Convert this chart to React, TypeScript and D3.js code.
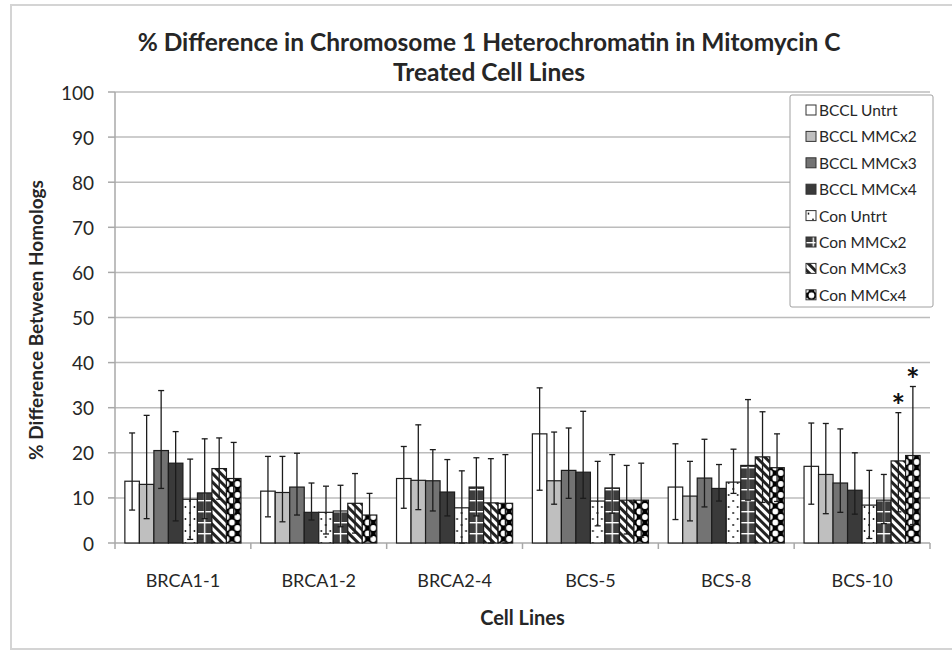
import React, { useEffect, useRef } from "react";
import * as d3 from "d3";

// Data
const categories = ["BRCA1-1", "BRCA1-2", "BRCA2-4", "BCS-5", "BCS-8", "BCS-10"];
const seriesNames = [
  "BCCL Untrt", "BCCL MMCx2", "BCCL MMCx3", "BCCL MMCx4",
  "Con Untrt", "Con MMCx2", "Con MMCx3", "Con MMCx4",
];

// mean % difference per cell line
const bcclUntrt = [13.7, 11.5, 14.3, 24.2, 12.4, 17.0];
const bcclMmc2 = [13.0, 11.2, 13.9, 13.8, 10.4, 15.2];
const bcclMmc3 = [20.5, 12.4, 13.8, 16.1, 14.4, 13.3];
const bcclMmc4 = [17.7, 6.8, 11.3, 15.7, 12.1, 11.7];
const conUntrt = [9.7, 6.8, 7.8, 9.3, 13.5, 8.4];
const conMmc2 = [11.1, 7.1, 12.4, 12.2, 17.2, 9.5];
const conMmc3 = [16.5, 8.8, 8.9, 9.5, 19.1, 18.2];
const conMmc4 = [14.3, 6.2, 8.8, 9.5, 16.7, 19.4];

// error bar ends (top / bottom)
const bcclUntrtHi = [24.4, 19.2, 21.4, 34.4, 22.0, 26.6];
const bcclMmc2Hi = [28.3, 19.2, 26.2, 24.6, 18.1, 26.5];
const bcclMmc3Hi = [33.8, 19.9, 20.7, 25.5, 23.0, 25.3];
const bcclMmc4Hi = [24.7, 13.3, 18.5, 29.2, 17.4, 20.0];
const conUntrtHi = [18.6, 12.6, 16.0, 18.1, 20.8, 16.1];
const conMmc2Hi = [23.1, 12.8, 18.9, 19.6, 31.8, 15.2];
const conMmc3Hi = [23.3, 15.4, 18.7, 17.2, 29.1, 28.9];
const conMmc4Hi = [22.3, 11.0, 19.6, 17.7, 24.2, 34.7];

const bcclUntrtLo = [7.3, 5.8, 7.7, 11.7, 5.2, 8.6];
const bcclMmc2Lo = [5.4, 4.7, 7.4, 8.6, 4.9, 6.5];
const bcclMmc3Lo = [12.1, 6.2, 7.1, 9.9, 8.0, 6.8];
const bcclMmc4Lo = [4.9, 5.1, 6.0, 9.9, 9.3, 6.4];
const conUntrtLo = [0.8, 2.0, 0.0, 3.8, 11.0, 1.0];
const conMmc2Lo = [5.4, 3.6, 6.0, 6.6, 9.5, 4.3];
const conMmc3Lo = [9.7, 2.2, 0.0, 2.0, 9.0, 6.9];
const conMmc4Lo = [6.3, 1.4, 0.0, 1.3, 9.2, 4.1];

const means = [bcclUntrt, bcclMmc2, bcclMmc3, bcclMmc4, conUntrt, conMmc2, conMmc3, conMmc4];
const highs = [bcclUntrtHi, bcclMmc2Hi, bcclMmc3Hi, bcclMmc4Hi, conUntrtHi, conMmc2Hi, conMmc3Hi, conMmc4Hi];
const lows = [bcclUntrtLo, bcclMmc2Lo, bcclMmc3Lo, bcclMmc4Lo, conUntrtLo, conMmc2Lo, conMmc3Lo, conMmc4Lo];

const yTicks = [0, 10, 20, 30, 40, 50, 60, 70, 80, 90, 100];
const starred = [
  { category: "BCS-10", series: "Con MMCx3" },
  { category: "BCS-10", series: "Con MMCx4" },
];

// Layout and styles
const width = 952;
const height = 651;
const plot = { left: 115, right: 930, top: 92, bottom: 543 };
const font = "Lato, 'Open Sans', sans-serif";
const textColor = "#262626";
const fills = ["#ffffff", "#bfbfbf", "#737373", "#3a3a3a", "url(#dots)", "url(#grid)", "url(#stripes)", "url(#diamonds)"];

function App() {
  const chartElement = useRef<SVGSVGElement | null>(null);

  useEffect(() => {
    const svg = d3.select(chartElement.current).html("");

    // Patterns for the hatched series
    const defs = svg.append("defs");
    const dots = defs.append("pattern").attr("id", "dots")
      .attr("patternUnits", "userSpaceOnUse").attr("width", 9).attr("height", 12);
    dots.append("rect").attr("width", 9).attr("height", 12).attr("fill", "#fff");
    dots.append("circle").attr("cx", 2.5).attr("cy", 3).attr("r", 0.9).attr("fill", "#000");
    dots.append("circle").attr("cx", 7).attr("cy", 9).attr("r", 0.9).attr("fill", "#000");

    const grid = defs.append("pattern").attr("id", "grid")
      .attr("patternUnits", "userSpaceOnUse").attr("width", 14.5).attr("height", 11);
    grid.append("rect").attr("width", 14.5).attr("height", 11).attr("fill", "#3d3d3d");
    grid.append("rect").attr("x", 6.6).attr("width", 1.4).attr("height", 11).attr("fill", "#fff");
    grid.append("rect").attr("y", 5).attr("width", 14.5).attr("height", 1.4).attr("fill", "#fff");

    const stripes = defs.append("pattern").attr("id", "stripes")
      .attr("patternUnits", "userSpaceOnUse").attr("width", 6).attr("height", 6)
      .attr("patternTransform", "rotate(-45)");
    stripes.append("rect").attr("width", 6).attr("height", 6).attr("fill", "#fff");
    stripes.append("rect").attr("width", 3).attr("height", 6).attr("fill", "#222");

    const diamonds = defs.append("pattern").attr("id", "diamonds")
      .attr("patternUnits", "userSpaceOnUse").attr("width", 11).attr("height", 11);
    diamonds.append("rect").attr("width", 11).attr("height", 11).attr("fill", "#000");
    [[0, 0], [11, 0], [0, 11], [11, 11], [5.5, 5.5]].forEach(([cx, cy]) => {
      diamonds.append("circle").attr("cx", cx).attr("cy", cy).attr("r", 2.9).attr("fill", "#fff");
    });

    // Scales
    const x0 = d3.scaleBand().domain(categories).range([plot.left, plot.right]);
    const x1 = d3.scaleBand().domain(seriesNames).range([0, x0.bandwidth()]).paddingOuter(0.68);
    const y = d3.scaleLinear().domain([0, 100]).range([plot.bottom, plot.top]);

    // Chart frame
    svg.append("path")
      .attr("d", `M${width + 5},5 H11 V649 H${width + 5}`)
      .attr("fill", "none").attr("stroke", "#d4d4d4").attr("stroke-width", 2);

    // Gridlines
    svg.append("g").selectAll("line").data(yTicks.filter((t) => t > 0)).join("line")
      .attr("x1", plot.left).attr("x2", plot.right)
      .attr("y1", (d) => y(d)).attr("y2", (d) => y(d))
      .attr("stroke", "#bcbcbc").attr("stroke-width", 1.5);

    // Y axis
    const yAxis = svg.append("g");
    yAxis.append("line").attr("x1", plot.left).attr("x2", plot.left)
      .attr("y1", plot.top).attr("y2", plot.bottom).attr("stroke", "#a8a8a8").attr("stroke-width", 1.5);
    yAxis.selectAll("line.tick").data(yTicks).join("line").attr("class", "tick")
      .attr("x1", plot.left - 7).attr("x2", plot.left)
      .attr("y1", (d) => y(d)).attr("y2", (d) => y(d))
      .attr("stroke", "#a8a8a8").attr("stroke-width", 1.5);
    yAxis.selectAll("text").data(yTicks).join("text")
      .attr("x", 94).attr("y", (d) => y(d))
      .attr("text-anchor", "end").attr("dominant-baseline", "central")
      .style("font-family", font).style("font-size", "19px").attr("fill", textColor)
      .text((d) => d);

    // X axis
    const xAxis = svg.append("g");
    xAxis.append("line").attr("x1", plot.left).attr("x2", plot.right)
      .attr("y1", plot.bottom).attr("y2", plot.bottom).attr("stroke", "#a8a8a8").attr("stroke-width", 1.5);
    const boundaries = [plot.left, ...categories.map((c) => (x0(c) as number) + x0.bandwidth())];
    xAxis.selectAll("line.tick").data(boundaries).join("line").attr("class", "tick")
      .attr("x1", (d) => d).attr("x2", (d) => d)
      .attr("y1", plot.bottom).attr("y2", plot.bottom + 6)
      .attr("stroke", "#a8a8a8").attr("stroke-width", 1.5);
    xAxis.selectAll("text").data(categories).join("text")
      .attr("x", (d) => (x0(d) as number) + x0.bandwidth() / 2).attr("y", 580)
      .attr("text-anchor", "middle").attr("dominant-baseline", "central")
      .style("font-family", font).style("font-size", "18px").attr("fill", textColor)
      .text((d) => d);

    // Bars and error bars
    const barW = x1.bandwidth();
    seriesNames.forEach((s, si) => {
      categories.forEach((c, ci) => {
        const bx = (x0(c) as number) + (x1(s) as number);
        const g = svg.append("g").attr("transform", `translate(${bx},0)`);
        const v = means[si][ci];
        g.append("rect")
          .attr("x", 0).attr("y", y(v))
          .attr("width", barW).attr("height", y(0) - y(v))
          .attr("fill", fills[si]).attr("stroke", "#1c1c1c").attr("stroke-width", 1.2);
      });
    });
    seriesNames.forEach((s, si) => {
      categories.forEach((c, ci) => {
        const cx = (x0(c) as number) + (x1(s) as number) + barW / 2;
        const hi = y(highs[si][ci]);
        const lo = y(lows[si][ci]);
        const g = svg.append("g").attr("stroke", "#1c1c1c").attr("stroke-width", 1.3);
        g.append("line").attr("x1", cx).attr("x2", cx).attr("y1", hi).attr("y2", lo);
        g.append("line").attr("x1", cx - 3).attr("x2", cx + 3).attr("y1", hi).attr("y2", hi);
        g.append("line").attr("x1", cx - 3).attr("x2", cx + 3).attr("y1", lo).attr("y2", lo);
      });
    });

    // Significance stars
    starred.forEach((st) => {
      const si = seriesNames.indexOf(st.series);
      const ci = categories.indexOf(st.category);
      svg.append("text")
        .attr("x", (x0(st.category) as number) + (x1(st.series) as number) + barW / 2)
        .attr("y", y(highs[si][ci]) + 5)
        .attr("text-anchor", "middle")
        .style("font-family", font).style("font-size", "32px").style("font-weight", "bold").attr("fill", "#111")
        .text("*");
    });

    // Legend
    const legend = svg.append("g");
    legend.append("rect").attr("x", 790).attr("y", 95).attr("width", 143).attr("height", 212)
      .attr("fill", "#fff").attr("stroke", "#a0a0a0").attr("rx", 2);
    seriesNames.forEach((s, i) => {
      const ly = 110 + i * 26.4;
      const sw = legend.append("g").attr("transform", `translate(806,${ly - 5})`);
      sw.append("rect").attr("width", 10).attr("height", 10)
        .attr("fill", fills[i]).attr("stroke", "#333").attr("stroke-width", 1);
      legend.append("text").attr("x", 819).attr("y", ly)
        .attr("dominant-baseline", "central")
        .style("font-family", font).style("font-size", "15.5px").attr("fill", textColor)
        .text(s);
    });

    // Titles
    const title = svg.append("text").attr("text-anchor", "middle")
      .style("font-family", font).style("font-size", "24.5px").style("font-weight", "bold").attr("fill", textColor);
    title.append("tspan").attr("x", 489).attr("y", 51).text("% Difference in Chromosome 1 Heterochromatin in Mitomycin C");
    title.append("tspan").attr("x", 489).attr("y", 81).text("Treated Cell Lines");

    svg.append("text")
      .attr("transform", "translate(43,320) rotate(-90)")
      .attr("text-anchor", "middle")
      .style("font-family", font).style("font-size", "19px").style("font-weight", "bold").attr("fill", textColor)
      .text("% Difference Between Homologs");

    svg.append("text")
      .attr("x", (plot.left + plot.right) / 2).attr("y", 625)
      .attr("text-anchor", "middle")
      .style("font-family", font).style("font-size", "20px").style("font-weight", "bold").attr("fill", textColor)
      .text("Cell Lines");
  }, []);

  return (
    <svg
      ref={chartElement}
      width={width}
      height={height}
      style={{ position: "absolute", left: 0, top: 0, background: "#fff" }}
    />
  );
}

export default App;
